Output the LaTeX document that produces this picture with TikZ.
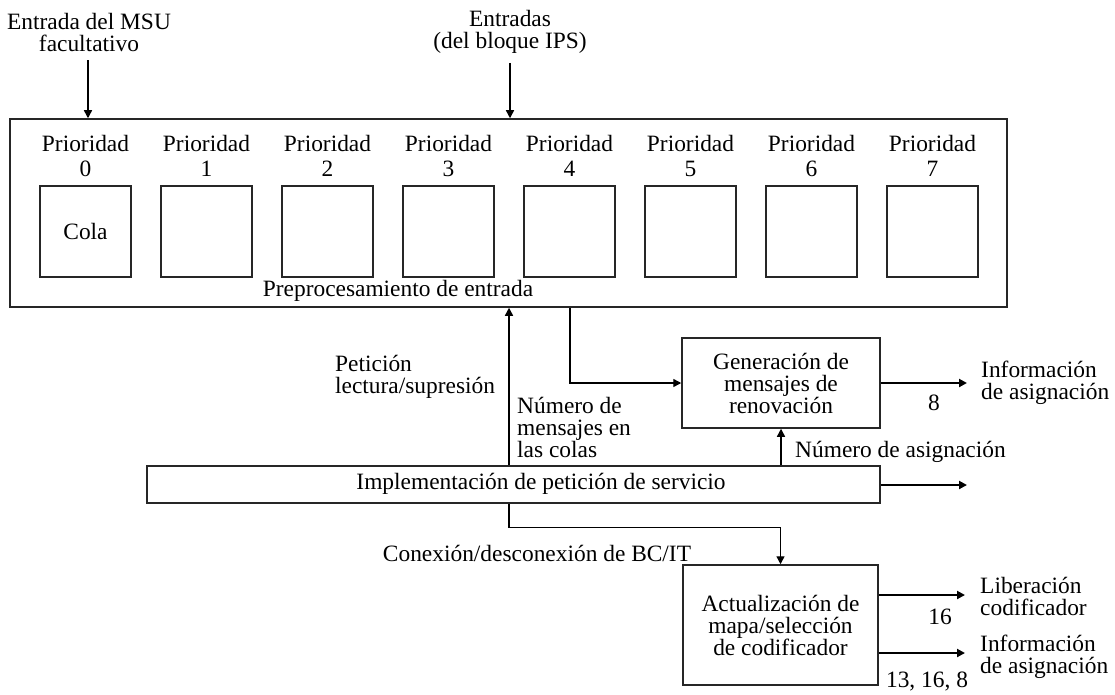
\documentclass[tikz,border=0pt]{standalone}
\usepackage{fontspec}
\setmainfont{Liberation Serif}
\usetikzlibrary{arrows.meta}
\begin{document}
\begin{tikzpicture}[x=1pt,y=-1pt,
  every node/.style={font=\fontsize{23.4}{22}\selectfont, inner sep=0pt},
  box/.style={draw=black!85, line width=1.5pt},
  conn/.style={line width=1.4pt, -{Triangle[length=8pt,width=8pt]}},
  thickconn/.style={line width=2.8pt, -{Triangle[length=8pt,width=8pt]}},
  prio/.style={align=center, font=\fontsize{23.4}{25.5}\selectfont},
  txt/.style={align=left, anchor=west}]
\useasboundingbox (0,0) rectangle (1115,695);

% top inputs
\node[align=center] (msu) at (89,32) {Entrada del MSU\\facultativo};
\node[align=center] (ips) at (510,32) {Entradas\\(del bloque IPS)};

% input preprocessing box
\node[box, minimum width=997pt, minimum height=188pt] (pre) at (508.5,213) {};
\node (pretxt) at (398,291) {Preprocesamiento de entrada};

\foreach \i in {0,...,7}{
  \node[box, minimum width=91pt, minimum height=91pt] (q\i) at (85.5+121*\i,231.5) {};
  \node[prio] (p\i) at (85.5+121*\i,156) {Prioridad\\\i};
}
\node (cola) at (q0) {Cola};

% other boxes
\node[box, minimum width=198pt, minimum height=90pt, align=center] (gen) at (781,383)
  {Generación de\\mensajes de\\renovación};
\node[box, minimum width=733pt, minimum height=37pt] (impl) at (513.5,484.5) {};
\node (impltxt) at (541,484) {Implementación de petición de servicio};
\node[box, minimum width=195pt, minimum height=120pt, align=center] (act) at (780.5,625)
  {Actualización de\\mapa/selección\\de codificador};

% helper coordinates
\coordinate (xmsu) at (88,0);
\coordinate (xreq) at (509,0);
\coordinate (xgen) at (570,0);
\coordinate (o1) at (967,383);
\coordinate (o2) at (967,485);
\coordinate (o3) at (965,595);
\coordinate (o4) at (965,653);

% connectors
\draw[conn] (msu.south -| xmsu) ++(0,9) -- (pre.north -| xmsu);
\draw[conn] (ips.south) ++(0,9) -- (pre.north -| ips.south);
\draw[conn] (impl.north -| xreq) -- (pre.south -| xreq);
\draw[conn] (pre.south -| xgen) |- (gen.west);
\draw[thickconn] (gen.east |- o1) -- (o1);
\draw[conn] (impl.north -| gen.south) -- (gen.south);
\draw[thickconn] (impl.east |- o2) -- (o2);
\draw[conn] (impl.south -| xreq) -- ++(0,24) -| (act.north);
\draw[thickconn] (act.east |- o3) -- (o3);
\draw[thickconn] (act.east |- o4) -- (o4);

% labels
\node[txt] (lreq) at (335,377) {Petición\\lectura/supresión};
\node[txt] (lnum) at (517,427) {Número de\\mensajes en\\las colas};
\node (l8) at (934,403) {8};
\node[txt] (linfo1) at (981,383) {Información\\de asignación};
\node[txt] (lasig) at (795,452) {Número de asignación};
\node (lcon) at (537,553) {Conexión/desconexión de BC/IT};
\node (l16) at (940,617) {16};
\node[txt] (llib) at (980,596) {Liberación\\codificador};
\node[txt] (linfo2) at (980,657) {Información\\de asignación};
\node (l13) at (927,682) {13, 16, 8};
\end{tikzpicture}
\end{document}
